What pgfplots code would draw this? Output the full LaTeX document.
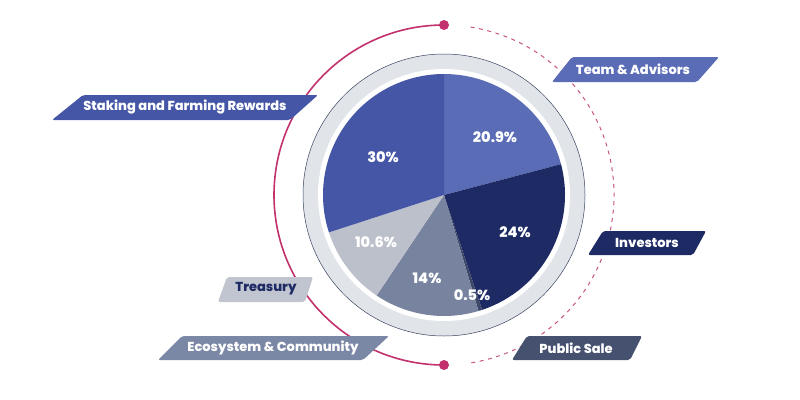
\documentclass[border=0pt]{standalone}
\usepackage{fontspec}
\setmainfont{Poppins}[BoldFont={Poppins ExtraBold}]
\usepackage{pgfplots}
\usepackage{pgfplotstable}
\pgfplotsset{compat=1.18}

\definecolor{cTeam}{HTML}{5A6CB6}
\definecolor{cInv}{HTML}{1E2A64}
\definecolor{cPub}{HTML}{3D4868}
\definecolor{cEco}{HTML}{77839F}
\definecolor{cTre}{HTML}{BBC0CB}
\definecolor{cSta}{HTML}{4456A5}
\definecolor{ringgray}{HTML}{E1E5EA}
\definecolor{ringline}{HTML}{3A4260}
\definecolor{magA}{HTML}{C2306E}
\definecolor{magB}{HTML}{C8557F}
\definecolor{bPub}{HTML}{46506F}
\definecolor{bEco}{HTML}{7A87A5}
\definecolor{bTre}{HTML}{C0C5D0}

% slices clockwise from the top; lx, ly = label position (px, y down)
\pgfplotstableread{
name pct col lx ly
Team 20.9 cTeam 495 137
Investors 24 cInv 515 232
Public 0.5 cPub 472 295
Ecosystem 14 cEco 427 278
Treasury 10.6 cTre 376 242
Staking 30 cSta 383 157
}\slices

\begin{document}
\begin{tikzpicture}
\begin{axis}[
  x=1pt, y=1pt, xmin=0, xmax=800, ymin=0, ymax=399,
  y dir=reverse, hide axis, clip=false,
]
\path (axis cs:0,0) rectangle (axis cs:800,399);

% magenta arcs
\draw[magA, line width=1.6pt] (axis cs:444,25) arc[start angle=90, end angle=270, radius=170pt];
\draw[magB, line width=1pt, dash pattern=on 4pt off 4.5pt]
  ([shift={(81:170pt)}]axis cs:444,195) arc[start angle=81, end angle=-81, radius=170pt];
\fill[magA] (axis cs:444,25) circle[radius=5pt];
\fill[magA] (axis cs:444,365) circle[radius=5pt];

% rings
\fill[ringgray] (axis cs:444,195) circle[radius=141pt];
\draw[ringline, line width=0.5pt] (axis cs:444,195) circle[radius=141pt];
\fill[white] (axis cs:444,195) circle[radius=126pt];

% pie slices
\def\angstart{90}
\pgfplotsforeachungrouped \i in {0,1,2,3,4,5}{%
  \pgfplotstablegetelem{\i}{pct}\of\slices \let\slpct\pgfplotsretval
  \pgfplotstablegetelem{\i}{col}\of\slices \let\slcol\pgfplotsretval
  \pgfmathsetmacro{\angend}{\angstart-3.6*\slpct}%
  \edef\cmd{\noexpand\fill[\slcol] (axis cs:444,195) -- ++(\angstart:121pt)
     arc[start angle=\angstart, end angle=\angend, radius=121pt] -- cycle;}%
  \cmd
  \let\angstart\angend
}

% percentage labels
\addplot[only marks, mark=none, point meta=explicit symbolic,
  nodes near coords={\pgfplotspointmeta\%},
  every node near coord/.append style={anchor=center, text=white,
    font=\fontsize{14.5}{16}\selectfont\bfseries}]
  table[x=lx, y=ly, meta=pct] {\slices};

% category boxes
\tikzset{lbl/.style={font=\fontsize{13}{15}\selectfont\bfseries, anchor=center}}
\fill[cSta, rounded corners=2pt] (axis cs:83,95) -- (axis cs:318,95) -- (axis cs:290,120) -- (axis cs:52,120) -- cycle;
\node[lbl, text=white] at (axis cs:185,107) {Staking and Farming Rewards};
\fill[cTeam, rounded corners=2pt] (axis cs:572,57) -- (axis cs:719,57) -- (axis cs:697,82) -- (axis cs:552,82) -- cycle;
\node[lbl, text=white] at (axis cs:633,69) {Team \& Advisors};
\fill[cInv, rounded corners=2pt] (axis cs:603,231) -- (axis cs:706,231) -- (axis cs:693,255) -- (axis cs:588,255) -- cycle;
\node[lbl, text=white] at (axis cs:647,243) {Investors};
\fill[bTre, rounded corners=2pt] (axis cs:227,277) -- (axis cs:313,277) -- (axis cs:305,302) -- (axis cs:218,302) -- cycle;
\node[lbl, text=cInv] at (axis cs:266,289) {Treasury};
\fill[bEco, rounded corners=2pt] (axis cs:182,336) -- (axis cs:389,336) -- (axis cs:363,360) -- (axis cs:158,360) -- cycle;
\node[lbl, text=white] at (axis cs:273,348) {Ecosystem \& Community};
\fill[bPub, rounded corners=2pt] (axis cs:527,336) -- (axis cs:642,336) -- (axis cs:630,360) -- (axis cs:512,360) -- cycle;
\node[lbl, text=white] at (axis cs:576,348) {Public Sale};
\end{axis}
\end{tikzpicture}
\end{document}
